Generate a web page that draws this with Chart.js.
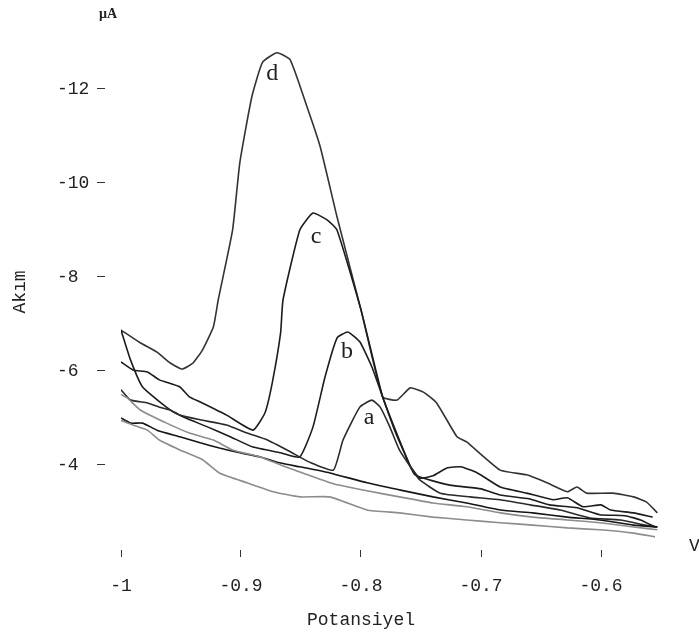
<!DOCTYPE html>
<html>
<head>
<meta charset="utf-8">
<title>Akım - Potansiyel</title>
<script src="https://cdn.jsdelivr.net/npm/chart.js@4/dist/chart.umd.min.js"></script>
<style>
    html, body { margin: 0; padding: 0; background: #fff; }
    #wrap { width: 699px; height: 638px; position: relative; }
</style>
</head>
<body>
<div id="wrap"><canvas id="chart-voltammogram"></canvas></div>
<script>
/* ============================================
   Voltammogram — current vs. potential
   ============================================ */

// tick labels
const potTicks = [-1, -0.9, -0.8, -0.7, -0.6];
const akimTicks = [-12, -10, -8, -6, -4];

// curve d
const dPot = [-1.000, -0.984, -0.970, -0.959, -0.949, -0.940, -0.932, -0.923, -0.919, -0.907, -0.901, -0.891, -0.882, -0.870, -0.859, -0.845, -0.834, -0.820, -0.800, -0.782, -0.770, -0.759, -0.748, -0.737, -0.720, -0.712, -0.684, -0.662, -0.645, -0.628, -0.620, -0.612, -0.590, -0.573, -0.562, -0.553];
const dAkim = [-6.87, -6.60, -6.40, -6.17, -6.04, -6.17, -6.45, -6.94, -7.51, -9.00, -10.43, -11.83, -12.57, -12.77, -12.62, -11.62, -10.77, -9.28, -7.30, -5.45, -5.38, -5.64, -5.55, -5.32, -4.60, -4.49, -3.89, -3.79, -3.62, -3.43, -3.53, -3.40, -3.40, -3.32, -3.21, -2.98];

// curve c
const cPot = [-1.000, -0.990, -0.978, -0.968, -0.951, -0.943, -0.934, -0.912, -0.890, -0.880, -0.874, -0.867, -0.865, -0.851, -0.840, -0.828, -0.820, -0.800, -0.782, -0.768, -0.759, -0.751, -0.740, -0.728, -0.717, -0.703, -0.684, -0.662, -0.640, -0.628, -0.615, -0.600, -0.592, -0.573, -0.557];
const cAkim = [-6.19, -6.02, -5.98, -5.81, -5.66, -5.45, -5.34, -5.06, -4.74, -5.11, -5.74, -6.81, -7.51, -9.00, -9.36, -9.21, -9.00, -7.30, -5.45, -4.53, -3.98, -3.72, -3.77, -3.94, -3.96, -3.83, -3.53, -3.40, -3.26, -3.30, -3.11, -3.15, -3.04, -2.98, -2.89];

// curve b
const bPot = [-1.000, -0.992, -0.982, -0.959, -0.948, -0.928, -0.909, -0.890, -0.867, -0.851, -0.840, -0.830, -0.820, -0.811, -0.801, -0.791, -0.782, -0.772, -0.763, -0.755, -0.726, -0.700, -0.684, -0.660, -0.643, -0.620, -0.601, -0.580, -0.567, -0.555];
const bAkim = [-6.87, -6.23, -5.66, -5.17, -5.02, -4.81, -4.60, -4.38, -4.26, -4.17, -4.81, -5.87, -6.70, -6.83, -6.62, -6.09, -5.45, -4.74, -4.21, -3.79, -3.57, -3.49, -3.36, -3.28, -3.15, -3.09, -2.94, -2.92, -2.83, -2.68];

// curve a
const aPot = [-1.000, -0.992, -0.978, -0.968, -0.959, -0.951, -0.934, -0.912, -0.895, -0.878, -0.859, -0.843, -0.823, -0.815, -0.801, -0.791, -0.784, -0.776, -0.768, -0.757, -0.751, -0.734, -0.709, -0.684, -0.659, -0.634, -0.609, -0.584, -0.563, -0.553];
const aAkim = [-5.60, -5.38, -5.32, -5.23, -5.17, -5.06, -4.96, -4.85, -4.68, -4.53, -4.28, -4.06, -3.89, -4.53, -5.23, -5.38, -5.23, -4.81, -4.32, -3.89, -3.68, -3.40, -3.32, -3.26, -3.15, -3.04, -2.87, -2.83, -2.72, -2.68];

// baseline runs
const blank1Pot = [-1.000, -0.995, -0.984, -0.962, -0.943, -0.923, -0.907, -0.884, -0.867, -0.851, -0.823, -0.795, -0.768, -0.740, -0.712, -0.684, -0.657, -0.628, -0.601, -0.573, -0.553];
const blank1Akim = [-5.50, -5.43, -5.17, -4.89, -4.68, -4.53, -4.32, -4.17, -4.00, -3.85, -3.60, -3.45, -3.32, -3.19, -3.11, -2.98, -2.89, -2.83, -2.77, -2.68, -2.62];

const blank2Pot = [-1.000, -0.992, -0.982, -0.970, -0.951, -0.934, -0.918, -0.901, -0.884, -0.867, -0.851, -0.826, -0.795, -0.768, -0.740, -0.712, -0.684, -0.657, -0.628, -0.601, -0.573, -0.553];
const blank2Akim = [-5.00, -4.89, -4.89, -4.74, -4.60, -4.47, -4.36, -4.26, -4.17, -4.04, -3.96, -3.83, -3.62, -3.47, -3.32, -3.19, -3.04, -2.98, -2.89, -2.83, -2.72, -2.68];

const blank3Pot = [-1.000, -0.990, -0.978, -0.968, -0.951, -0.932, -0.918, -0.895, -0.873, -0.851, -0.826, -0.795, -0.768, -0.740, -0.712, -0.684, -0.657, -0.628, -0.601, -0.573, -0.555];
const blank3Akim = [-4.95, -4.85, -4.74, -4.53, -4.32, -4.11, -3.83, -3.62, -3.43, -3.32, -3.32, -3.04, -2.98, -2.89, -2.83, -2.77, -2.72, -2.66, -2.62, -2.55, -2.47];

// curve letters, placed in data units
const letterNames = ['d', 'c', 'b', 'a'];
const letterPot = [-0.874, -0.8375, -0.8117, -0.7933];
const letterAkim = [-12.32, -8.85, -6.40, -5.00];

const MONO = "'Liberation Mono', 'DejaVu Sans Mono', monospace";

const Voltammogram = {
    chart: null,

    init() {
        this.render();
    },

    _points(xs, ys) {
        return xs.map((x, i) => ({ x, y: ys[i] }));
    },

    _series(xs, ys, color) {
        return {
            data: this._points(xs, ys),
            borderColor: color,
            borderWidth: 1.6,
            pointRadius: 0,
            tension: 0.15,
            fill: false
        };
    },

    // extra text: axis units, y title, x title, curve letters
    _labelsPlugin: {
        id: 'voltLabels',
        afterDatasetsDraw(chart) {
            const { ctx, scales: { x, y } } = chart;
            ctx.save();
            ctx.fillStyle = '#222';
            ctx.textBaseline = 'middle';

            ctx.font = 'bold 14px "Liberation Serif", serif';
            ctx.textAlign = 'center';
            ctx.fillText('µA', 108, 14);

            ctx.font = '18px ' + MONO;
            ctx.textAlign = 'left';
            ctx.fillText('V', 689, 546);

            ctx.textAlign = 'center';
            ctx.fillText('Potansiyel', x.getPixelForValue(-0.8), 620);

            ctx.save();
            ctx.translate(20, 292);
            ctx.rotate(-Math.PI / 2);
            ctx.fillText('Akım', 0, 0);
            ctx.restore();

            ctx.font = '24px "Liberation Serif", "DejaVu Serif", serif';
            letterNames.forEach((name, i) => {
                ctx.fillText(name, x.getPixelForValue(letterPot[i]), y.getPixelForValue(letterAkim[i]));
            });
            ctx.restore();
        }
    },

    render() {
        const ctx = document.getElementById('chart-voltammogram');

        this.chart = new Chart(ctx, {
            type: 'line',
            data: {
                datasets: [
                    this._series(blank3Pot, blank3Akim, '#8c8c8c'),
                    this._series(blank1Pot, blank1Akim, '#8c8c8c'),
                    this._series(blank2Pot, blank2Akim, '#151515'),
                    this._series(aPot, aAkim, '#2a2a2a'),
                    this._series(bPot, bAkim, '#1c1c1c'),
                    this._series(cPot, cAkim, '#1c1c1c'),
                    this._series(dPot, dAkim, '#333333')
                ]
            },
            options: {
                responsive: true,
                maintainAspectRatio: false,
                animation: false,
                layout: { padding: { top: 42, left: 57, right: 38, bottom: 0 } },
                plugins: {
                    legend: { display: false },
                    tooltip: { enabled: false }
                },
                scales: {
                    x: {
                        type: 'linear',
                        min: -1,
                        max: -0.55,
                        border: { display: false },
                        grid: {
                            drawOnChartArea: false,
                            drawTicks: true,
                            tickLength: 7,
                            tickColor: '#333',
                            tickWidth: 1
                        },
                        afterBuildTicks(scale) {
                            scale.ticks = potTicks.map(v => ({ value: v }));
                        },
                        afterFit(scale) {
                            scale.height = 88;
                        },
                        ticks: {
                            color: '#222',
                            padding: 18,
                            maxRotation: 0,
                            font: { family: MONO, size: 18 },
                            callback: v => String(v)
                        }
                    },
                    y: {
                        type: 'linear',
                        reverse: true,
                        min: -13,
                        max: -2.19,
                        border: { display: false },
                        grid: {
                            drawOnChartArea: false,
                            drawTicks: true,
                            tickLength: 24,
                            tickBorderDash: [8, 100],
                            tickColor: '#333',
                            tickWidth: 1
                        },
                        afterBuildTicks(scale) {
                            scale.ticks = akimTicks.map(v => ({ value: v }));
                        },
                        afterFit(scale) {
                            scale.width = 64;
                        },
                        ticks: {
                            color: '#222',
                            crossAlign: 'far',
                            font: { family: MONO, size: 18 },
                            callback: v => String(v)
                        }
                    }
                }
            },
            plugins: [this._labelsPlugin]
        });
    }
};

Voltammogram.init();
</script>
</body>
</html>
